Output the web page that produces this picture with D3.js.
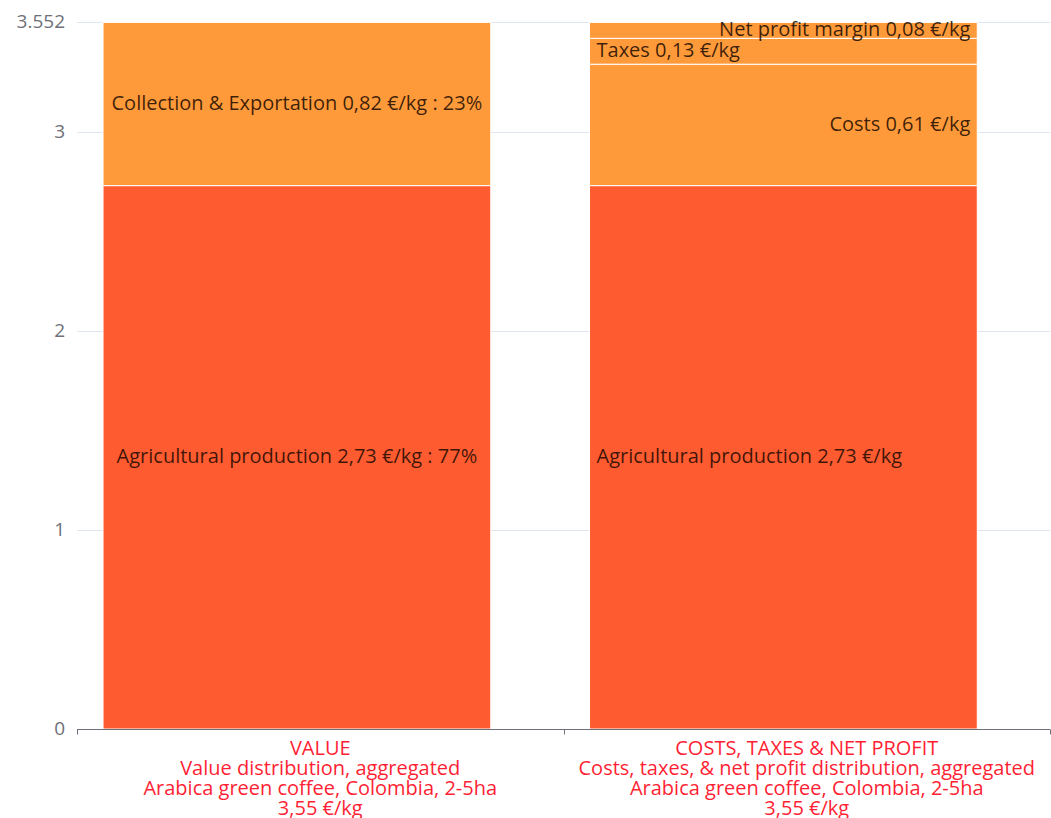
<!DOCTYPE html>
<html>
<head>
<meta charset="utf-8">
<script src="https://cdn.jsdelivr.net/npm/d3@7"></script>
<style>
  body { margin: 0; background: #fff; }
  svg { font-family: "Open Sans", "Noto Sans", sans-serif; }
</style>
</head>
<body>
<script>
// Screen size.
const WIDTH = 1051;
const HEIGHT = 818;
const margin = { top: 22, right: 1, bottom: 89, left: 77 };

// Data
const categories = ["VALUE", "COSTS"];
const categoryLabels = [
  ["VALUE", "Value distribution, aggregated", "Arabica green coffee, Colombia, 2-5ha", "3,55 €/kg"],
  ["COSTS, TAXES & NET PROFIT", "Costs, taxes, & net profit distribution, aggregated", "Arabica green coffee, Colombia, 2-5ha", "3,55 €/kg"]
];
const yMax = 3.552;
const yTicks = [0, 1, 2, 3, 3.552];

// One entry per stacked segment: which bar, its value, its label and where the label goes.
const segCategory = ["VALUE", "VALUE", "COSTS", "COSTS", "COSTS", "COSTS"];
const segValue    = [2.73, 0.82, 2.73, 0.61, 0.13, 0.08];
const segLabel    = [
  "Agricultural production 2,73 €/kg : 77%",
  "Collection & Exportation 0,82 €/kg : 23%",
  "Agricultural production 2,73 €/kg",
  "Costs 0,61 €/kg",
  "Taxes 0,13 €/kg",
  "Net profit margin 0,08 €/kg"
];
const segAlign = ["center", "center", "left", "right", "left", "right"];
const segColor = ["#FF5B30", "#FF9A3A", "#FF5B30", "#FF9A3A", "#FF9A3A", "#FF9A3A"];

// Build stacked segments
const running = {};
const segments = segValue.map((v, i) => {
  const c = segCategory[i];
  const y0 = running[c] || 0;
  running[c] = y0 + v;
  return { cat: c, y0: y0, y1: y0 + v, label: segLabel[i], align: segAlign[i], color: segColor[i] };
});

const svg = d3.select("body").append("svg").attr("width", WIDTH).attr("height", HEIGHT);

// category bands (no padding), bars sit a bit left of the band centre
const xBand = d3.scaleBand().domain(categories).range([margin.left, WIDTH - margin.right]);
const barOffset = xBand.bandwidth() * 0.0535;
const barWidth = xBand.bandwidth() * 0.797;
const barX = c => xBand(c) + barOffset;

const y = d3.scaleLinear().domain([0, yMax]).range([HEIGHT - margin.bottom, margin.top]);

// Grid lines
svg.append("g").selectAll("line").data(yTicks.filter(d => d > 0)).enter().append("line")
  .attr("x1", margin.left).attr("x2", WIDTH - margin.right)
  .attr("y1", d => Math.round(y(d)) + 0.5).attr("y2", d => Math.round(y(d)) + 0.5)
  .attr("stroke", "#E0E6F1");

// Y labels
svg.append("g").selectAll("text").data(yTicks).enter().append("text")
  .attr("x", margin.left - 12)
  .attr("y", d => y(d))
  .attr("dy", "0.3em")
  .attr("text-anchor", "end")
  .attr("fill", "#6E7079")
  .style("font-size", "19px")
  .text(d => d === 3.552 ? "3.552" : d);

// Bars
svg.append("g").selectAll("rect").data(segments).enter().append("rect")
  .attr("x", d => barX(d.cat))
  .attr("width", barWidth)
  .attr("y", d => y(d.y1))
  .attr("height", d => y(d.y0) - y(d.y1))
  .attr("fill", d => d.color)
  .attr("stroke", "#fff")
  .attr("stroke-width", 1);

// Bar labels
svg.append("g").selectAll("text").data(segments).enter().append("text")
  .attr("x", d => d.align === "center" ? barX(d.cat) + barWidth / 2
                : d.align === "left" ? barX(d.cat) + 7 : barX(d.cat) + barWidth - 7)
  .attr("y", d => (y(d.y0) + y(d.y1)) / 2)
  .attr("dy", "0.28em")
  .attr("text-anchor", d => d.align === "center" ? "middle" : d.align === "left" ? "start" : "end")
  .attr("fill", "#1a0a00")
  .attr("fill-opacity", 0.85)
  .style("font-size", "20px")
  .text(d => d.label);

// X axis
const axisY = Math.round(y(0)) + 0.5;
svg.append("line")
  .attr("x1", margin.left).attr("x2", WIDTH - margin.right)
  .attr("y1", axisY).attr("y2", axisY)
  .attr("stroke", "#6E7079");

const tickXs = categories.map(c => xBand(c)).concat([xBand.range()[1]]);
svg.append("g").selectAll("line").data(tickXs).enter().append("line")
  .attr("x1", d => Math.round(d) + 0.5).attr("x2", d => Math.round(d) + 0.5)
  .attr("y1", axisY).attr("y2", axisY + 5)
  .attr("stroke", "#6E7079");

// Category labels, one text per line
categories.forEach((c, ci) => {
  svg.append("g").selectAll("text").data(categoryLabels[ci]).enter().append("text")
    .attr("x", xBand(c) + xBand.bandwidth() / 2)
    .attr("y", (d, i) => axisY + 25 + i * 20.3)
    .attr("text-anchor", "middle")
    .attr("fill", "#FF1F35")
    .style("font-size", "20px")
    .text(d => d);
});
</script>
</body>
</html>
